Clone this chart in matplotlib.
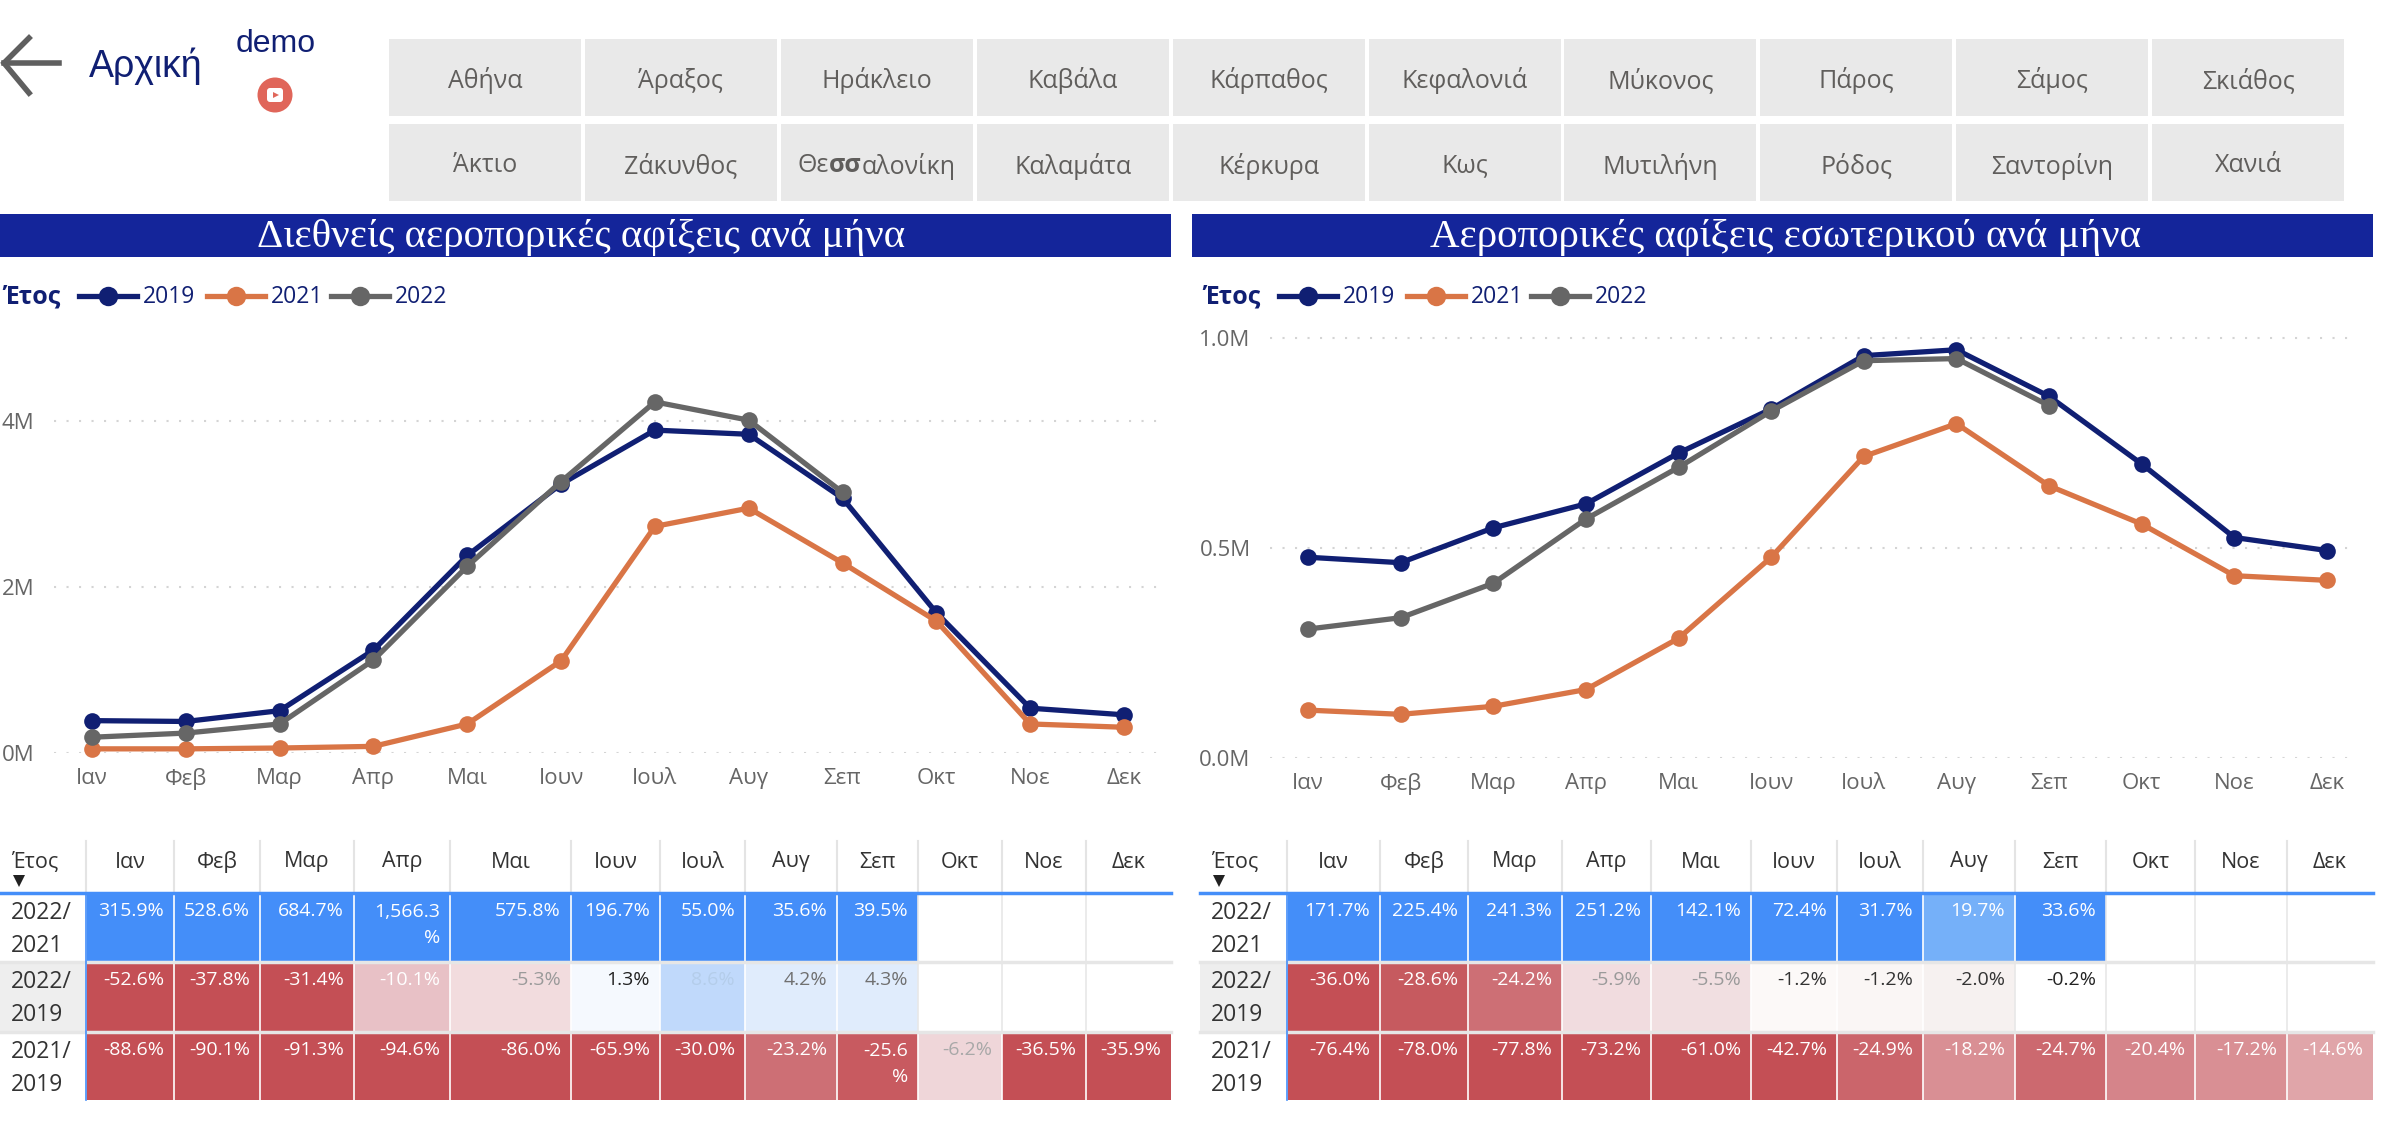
import matplotlib
matplotlib.use('Agg')
import matplotlib.pyplot as plt
from matplotlib.patches import Rectangle, Circle, FancyBboxPatch

plt.rcParams['font.family'] = ['Open Sans', 'DejaVu Sans']

W, H = 2398, 1128

months = ['Ιαν', 'Φεβ', 'Μαρ', 'Απρ', 'Μαι', 'Ιουν', 'Ιουλ', 'Αυγ', 'Σεπ', 'Οκτ', 'Νοε', 'Δεκ']
buttons_top = ['Αθήνα', 'Άραξος', 'Ηράκλειο', 'Καβάλα', 'Κάρπαθος', 'Κεφαλονιά', 'Μύκονος', 'Πάρος', 'Σάμος', 'Σκιάθος']
buttons_bottom = ['Άκτιο', 'Ζάκυνθος', 'Θεσσαλονίκη', 'Καλαμάτα', 'Κέρκυρα', 'Κως', 'Μυτιλήνη', 'Ρόδος', 'Σαντορίνη', 'Χανιά']

# millions of arrivals
intl_2019 = [0.39, 0.38, 0.51, 1.24, 2.38, 3.24, 3.89, 3.84, 3.07, 1.69, 0.54, 0.46]
intl_2021 = [0.05, 0.05, 0.06, 0.08, 0.35, 1.11, 2.73, 2.95, 2.29, 1.59, 0.35, 0.31]
intl_2022 = [0.19, 0.24, 0.35, 1.12, 2.25, 3.27, 4.23, 4.01, 3.14]

dom_2019 = [0.478, 0.465, 0.548, 0.605, 0.726, 0.831, 0.958, 0.972, 0.861, 0.70, 0.525, 0.494]
dom_2021 = [0.114, 0.104, 0.123, 0.163, 0.285, 0.478, 0.718, 0.796, 0.648, 0.557, 0.434, 0.423]
dom_2022 = [0.307, 0.334, 0.416, 0.569, 0.692, 0.826, 0.946, 0.951, 0.839]

row_labels = [('2022/', '2021'), ('2022/', '2019'), ('2021/', '2019')]

intl_table = [
    ['315.9%', '528.6%', '684.7%', '1,566.3\n%', '575.8%', '196.7%', '55.0%', '35.6%', '39.5%', '', '', ''],
    ['-52.6%', '-37.8%', '-31.4%', '-10.1%', '-5.3%', '1.3%', '8.6%', '4.2%', '4.3%', '', '', ''],
    ['-88.6%', '-90.1%', '-91.3%', '-94.6%', '-86.0%', '-65.9%', '-30.0%', '-23.2%', '-25.6\n%', '-6.2%', '-36.5%', '-35.9%'],
]
dom_table = [
    ['171.7%', '225.4%', '241.3%', '251.2%', '142.1%', '72.4%', '31.7%', '19.7%', '33.6%', '', '', ''],
    ['-36.0%', '-28.6%', '-24.2%', '-5.9%', '-5.5%', '-1.2%', '-1.2%', '-2.0%', '-0.2%', '', '', ''],
    ['-76.4%', '-78.0%', '-77.8%', '-73.2%', '-61.0%', '-42.7%', '-24.9%', '-18.2%', '-24.7%', '-20.4%', '-17.2%', '-14.6%'],
]

BLUE = '#448ef9'
RED = '#c44f55'
intl_fill = [
    [BLUE] * 9 + ['#ffffff'] * 3,
    [RED, RED, RED, '#e8c1c6', '#f2dcde', '#f5f9fe', '#c0d9fb', '#e0ecfc', '#e0ecfc', '#ffffff', '#ffffff', '#ffffff'],
    [RED] * 7 + ['#cd6f75', '#c85a60', '#efd6d9', RED, RED],
]
dom_fill = [
    [BLUE] * 7 + ['#75b0f9', BLUE, '#ffffff', '#ffffff', '#ffffff'],
    [RED, '#c65a5f', '#cd6f75', '#f1dcdf', '#f1dfe1', '#fcf9f8', '#faf6f5', '#f6f1f0', '#ffffff', '#ffffff', '#ffffff', '#ffffff'],
    [RED] * 6 + ['#cb656b', '#d98f94', '#cc696f', '#d5848a', '#d98f94', '#e0a5a9'],
]
intl_ink = [
    ['#ffffff'] * 12,
    ['#ffffff', '#ffffff', '#ffffff', '#ffffff', '#9a9a9a', '#222222', '#b4cdea', '#707070', '#707070', '#ffffff', '#ffffff', '#ffffff'],
    ['#ffffff'] * 9 + ['#a8a8a8', '#ffffff', '#ffffff'],
]
dom_ink = [
    ['#ffffff'] * 12,
    ['#ffffff', '#ffffff', '#ffffff', '#9a9a9a', '#9a9a9a', '#333333', '#333333', '#333333', '#222222', '#ffffff', '#ffffff', '#ffffff'],
    ['#ffffff'] * 12,
]

intl_cols = [0, 86, 174, 260, 354, 450, 571, 660, 745, 837, 918, 1002, 1086, 1171]
dom_cols = [1200, 1287, 1380, 1468, 1562, 1651, 1751, 1837, 1923, 2015, 2106, 2195, 2287, 2373]

NAVY = '#101f73'
ORANGE = '#d97546'
GRAY = '#666666'
BAR = '#14259a'
TEXT = '#605e5c'

fig = plt.figure(figsize=(W / 100, H / 100), dpi=100)
bg = fig.add_axes([0, 0, 1, 1])
bg.set_xlim(0, W)
bg.set_ylim(H, 0)
bg.axis('off')


def px_axes(left, right, top, bottom):
    return fig.add_axes([left / W, 1 - bottom / H, (right - left) / W, (bottom - top) / H])


def line_chart(left, right, top, bottom, first, last, ymax, ticks, tick_labels, s2019, s2021, s2022):
    ax = px_axes(left, right, top, bottom)
    step = (last - first) / 11
    ax.set_xlim((left - first) / step, (right - first) / step)
    ax.set_ylim(0, ymax)
    ax.patch.set_alpha(0)
    for s in ax.spines.values():
        s.set_visible(False)
    ax.set_xticks(range(12))
    ax.set_xticklabels(months, fontsize=16, color=GRAY)
    ax.set_yticks(ticks)
    ax.set_yticklabels(tick_labels, fontsize=16, color=GRAY)
    ax.tick_params(length=0)
    ax.tick_params(axis='x', pad=11)
    ax.tick_params(axis='y', pad=14)
    ax.grid(axis='y', color='#d4d4d4', linestyle=(0, (1, 5)), linewidth=1.5)
    ax.set_axisbelow(True)
    for vals, col in [(s2019, NAVY), (s2021, ORANGE), (s2022, GRAY)]:
        ax.plot(range(len(vals)), vals, color=col, lw=3.8, marker='o', ms=12, mew=0, clip_on=False)


def legend(x0):
    bg.text(x0 + 3, 297, 'Έτος', fontsize=18, fontweight='bold', color=NAVY, va='center')
    for off, year, col in [(79, '2019', NAVY), (207, '2021', ORANGE), (331, '2022', GRAY)]:
        bg.plot([x0 + off, x0 + off + 58], [296, 296], color=col, lw=3.8)
        bg.plot([x0 + off + 29], [296], color=col, marker='o', ms=14, mew=0)
        bg.text(x0 + off + 64, 297, year, fontsize=16.5, color=NAVY, va='center')


def table(cols, cells, fills, inks):
    x0 = cols[0]
    end = cols[-1]
    rows = [(894, 961), (963, 1031), (1033, 1100)]
    bg.text(x0 + 11, 862, 'Έτος', fontsize=15.5, color='#333333', va='center')
    bg.plot([x0 + 19], [881], color='#222222', marker='v', ms=8, mew=0)
    bg.add_patch(Rectangle((x0, 963), cols[1] - x0, 68, fc='#eeeeee', ec='none'))
    for j, name in enumerate(months):
        cx = (cols[j + 1] + cols[j + 2]) / 2
        bg.text(cx, 862, name, fontsize=15.5, color='#333333', ha='center', va='center')
        bg.plot([cols[j + 1]] * 2, [841, 892], color='#e4e4e4', lw=1.5)
    for i, (y0, y1) in enumerate(rows):
        a, b = row_labels[i]
        bg.text(x0 + 11, y0 + 19, a, fontsize=16.5, color='#333333', va='center')
        bg.text(x0 + 11, y0 + 52, b, fontsize=16.5, color='#333333', va='center')
        for j in range(12):
            left, right = cols[j + 1], cols[j + 2]
            edge = '#ffffff' if fills[i][j] != '#ffffff' else '#e8e8e8'
            bg.add_patch(Rectangle((left, y0), right - left, y1 - y0, fc=fills[i][j], ec='none'))
            bg.plot([left, left], [y0, y1], color=edge, lw=1.2)
            val = cells[i][j]
            if val:
                # wrapped values sit lower because they take two lines
                yc = y0 + 31 if '\n' in val else y0 + 17
                bg.text(right - 10, yc, val, fontsize=14, color=inks[i][j], ha='right', va='center', linespacing=1.55)
    # row rules and the blue header rule
    bg.plot([x0, end], [962, 962], color='#e6e6e6', lw=2.5)
    bg.plot([x0, end], [1032, 1032], color='#e6e6e6', lw=2.5)
    bg.plot([x0, end], [893, 893], color=BLUE, lw=2.5)
    bg.plot([cols[1], cols[1]], [893, 1100], color=BLUE, lw=1.2)


# buttons across the top
for row_names, y0 in [(buttons_top, 39), (buttons_bottom, 124)]:
    for i, name in enumerate(row_names):
        x = 389 + i * 195.9
        bg.add_patch(Rectangle((x, y0), 192, 77, fc='#e9e9e9', ec='none'))
        if name == 'Θεσσαλονίκη':
            r = fig.canvas.get_renderer()
            parts = [('Θε', 'normal'), ('σσ', 'bold'), ('αλονίκη', 'normal')]
            arts = [bg.text(0, y0 + 42, p, fontsize=18, color=TEXT, va='center', fontweight=w) for p, w in parts]
            widths = [a.get_window_extent(r).width for a in arts]
            cur = x + 96 - sum(widths) / 2
            for a, wd in zip(arts, widths):
                a.set_x(cur)
                cur += wd
        else:
            bg.text(x + 96, y0 + 42, name, fontsize=18, color=TEXT, ha='center', va='center')

# back arrow, home link, demo icon
bg.plot([29, 4, 29], [38, 63, 93], color='#5f5f5f', lw=4, solid_joinstyle='miter')
bg.plot([4, 59], [63, 63], color='#5f5f5f', lw=4)
bg.text(89, 66, 'Αρχική', fontsize=27, color=NAVY, family='Liberation Sans', va='center')
bg.text(276, 44, 'demo', fontsize=23, color=NAVY, family='Liberation Sans', ha='center', va='center')
bg.add_patch(Circle((275, 95), 17.5, fc='#e0665a', ec='none'))
bg.add_patch(FancyBboxPatch((267, 88), 16, 14, boxstyle='round,pad=0,rounding_size=3', fc='#ffffff', ec='none'))
bg.plot([275.5], [95], color='#e0665a', marker='>', ms=5, mew=0)

# title bars
bg.add_patch(Rectangle((0, 214), 1171, 43, fc=BAR, ec='none'))
bg.add_patch(Rectangle((1192, 214), 1181, 43, fc=BAR, ec='none'))
bg.text(581, 238, 'Διεθνείς αεροπορικές αφίξεις ανά μήνα', fontsize=29.5, color='white', family='Liberation Serif', ha='center', va='center')
bg.text(1786, 238, 'Αεροπορικές αφίξεις εσωτερικού ανά μήνα', fontsize=29.5, color='white', family='Liberation Serif', ha='center', va='center')

legend(0)
legend(1200)

line_chart(54, 1159, 320, 753, 92, 1124, 433 / 83, [0, 2, 4], ['0M', '2M', '4M'], intl_2019, intl_2021, intl_2022)
line_chart(1270, 2355, 320, 758, 1308, 2327, 438 / 420, [0, 0.5, 1.0], ['0.0M', '0.5M', '1.0M'], dom_2019, dom_2021, dom_2022)

table(intl_cols, intl_table, intl_fill, intl_ink)
table(dom_cols, dom_table, dom_fill, dom_ink)

bg.set_xlim(0, W)
bg.set_ylim(H, 0)
fig.savefig('out.png', dpi=100)
